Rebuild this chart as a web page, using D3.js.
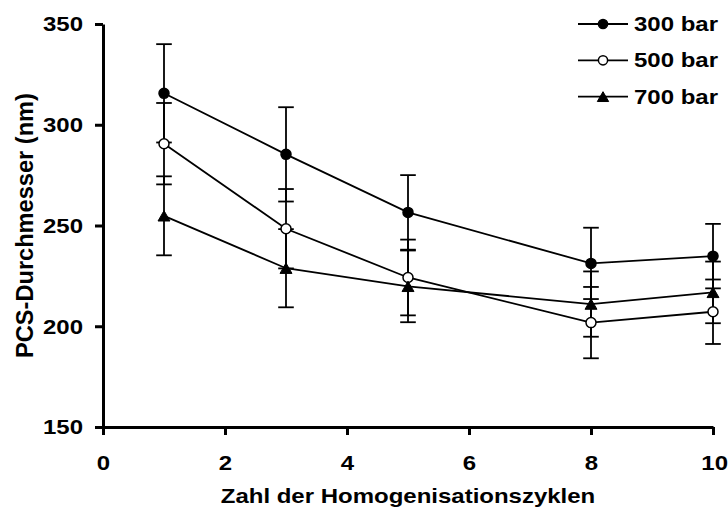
<!DOCTYPE html>
<html>
<head>
<meta charset="utf-8">
<script src="https://cdn.jsdelivr.net/npm/d3@7/dist/d3.min.js"></script>
<style>
  html, body { margin: 0; padding: 0; background: #fff; }
  svg text { font-family: "Liberation Sans", Arial, sans-serif; font-weight: bold; fill: #000; }
</style>
</head>
<body>
<svg id="chart" width="728" height="508"></svg>
<script>
// Homogenisation cycles on the x axis
const cycles = [1, 3, 5, 8, 10];

// Series names and mean PCS diameters (nm)
const seriesNames = ["300 bar", "500 bar", "700 bar"];
const values300 = [315.6, 285.3, 256.5, 231.2, 234.8];
const values500 = [290.6, 248.4, 224.2, 201.8, 207.2];
const values700 = [254.8, 228.8, 219.8, 211.0, 216.8];

// Standard deviations (nm)
const err300 = [24.4, 23.4, 18.5, 17.7, 16.0];
const err500 = [20.2, 19.7, 18.8, 17.7, 16.0];
const err700 = [19.6, 19.4, 17.8, 16.2, 15.3];

// Axis ticks
const xTicks = [0, 2, 4, 6, 8, 10];
const yTicks = [150, 200, 250, 300, 350];

const xTitle = "Zahl der Homogenisationszyklen";
const yTitle = "PCS-Durchmesser (nm)";

const series = [
  { name: seriesNames[0], values: values300, err: err300, marker: "circle", fill: "#000" },
  { name: seriesNames[1], values: values500, err: err500, marker: "circle", fill: "#fff" },
  { name: seriesNames[2], values: values700, err: err700, marker: "triangle", fill: "#000" }
];

const stretch = 1.2;   // wide bold lettering
const svg = d3.select("#chart");

const x = d3.scaleLinear().domain([0, 10]).range([103, 713]);
const y = d3.scaleLinear().domain([150, 350]).range([427, 24]);

// Triangle centred on its bounding box
const triangleSymbol = {
  draw(ctx, size) {
    const w = Math.sqrt(size * 4 / Math.sqrt(3));
    const h = w * Math.sqrt(3) / 2;
    ctx.moveTo(0, -h / 2);
    ctx.lineTo(w / 2, h / 2);
    ctx.lineTo(-w / 2, h / 2);
    ctx.closePath();
  }
};

function drawMarker(g, s, cx, cy, big) {
  if (s.marker === "circle") {
    g.append("circle")
      .attr("cx", cx).attr("cy", cy)
      .attr("r", big ? 5 : 4.6)
      .attr("fill", s.fill)
      .attr("stroke", "#000")
      .attr("stroke-width", 1.5);
  } else {
    g.append("path")
      .attr("d", d3.symbol(triangleSymbol, big ? 62 : 56)())
      .attr("transform", `translate(${cx},${cy})`)
      .attr("fill", s.fill)
      .attr("stroke", "#000")
      .attr("stroke-width", 1);
  }
}

// Axes
const yAxis = svg.append("g")
  .attr("transform", `translate(${x(0)},0)`)
  .call(d3.axisLeft(y).tickValues(yTicks).tickSize(8).tickSizeOuter(0).tickFormat(d3.format("d")));
const xAxis = svg.append("g")
  .attr("transform", `translate(0,${y(150)})`)
  .call(d3.axisBottom(x).tickValues(xTicks).tickSize(8).tickSizeOuter(0).tickFormat(d3.format("d")));

[yAxis, xAxis].forEach(ax => {
  ax.select(".domain").attr("stroke", "#000").attr("stroke-width", 3);
  ax.selectAll(".tick line").attr("stroke", "#000").attr("stroke-width", 3);
  ax.selectAll(".tick text").attr("font-size", 20).attr("font-family", null);
});
yAxis.selectAll(".tick text")
  .attr("x", -20 / stretch).attr("dy", "0.34em")
  .attr("transform", `scale(${stretch},1)`);
xAxis.selectAll(".tick text")
  .attr("y", 43).attr("dy", 0)
  .attr("transform", `scale(${stretch},1)`);
xAxis.selectAll(".tick").filter(d => d === 10).select("text")
  .attr("x", 1);

// Axis titles
svg.append("text")
  .attr("transform", `translate(${(x(0) + x(10)) / 2},503) scale(${stretch},1)`)
  .attr("text-anchor", "middle")
  .attr("font-size", 20)
  .text(xTitle);
svg.append("text")
  .attr("transform", `translate(33,${(y(150) + y(350)) / 2 + 0}) rotate(-90) scale(1.18,1.15)`)
  .attr("text-anchor", "middle")
  .attr("font-size", 20)
  .text(yTitle);

// Connecting lines
const line = d3.line().x((d, i) => x(cycles[i])).y(d => y(d));
series.forEach(s => {
  svg.append("path")
    .datum(s.values)
    .attr("d", line)
    .attr("fill", "none")
    .attr("stroke", "#000")
    .attr("stroke-width", 1.8);
});

// Error bars
const cap = 7.8;
series.forEach(s => {
  const g = svg.append("g").attr("stroke", "#000").attr("stroke-width", 1.8);
  s.values.forEach((v, i) => {
    const cx = x(cycles[i]);
    const top = y(v + s.err[i]), bot = y(v - s.err[i]);
    g.append("line").attr("x1", cx).attr("x2", cx).attr("y1", top).attr("y2", bot);
    g.append("line").attr("x1", cx - cap).attr("x2", cx + cap).attr("y1", top).attr("y2", top);
    g.append("line").attr("x1", cx - cap).attr("x2", cx + cap).attr("y1", bot).attr("y2", bot);
  });
});

// Markers
series.forEach(s => {
  const g = svg.append("g");
  s.values.forEach((v, i) => drawMarker(g, s, x(cycles[i]), y(v), true));
});

// Legend
const legend = svg.append("g");
series.forEach((s, i) => {
  const ry = 24 + i * 36.3;
  legend.append("line")
    .attr("x1", 578).attr("x2", 628)
    .attr("y1", ry).attr("y2", ry)
    .attr("stroke", "#000").attr("stroke-width", 1.8);
  drawMarker(legend, s, 603, ry, false);
  legend.append("text")
    .attr("transform", `translate(634,${ry + 7}) scale(${stretch},1)`)
    .attr("font-size", 20)
    .text(s.name);
});
</script>
</body>
</html>
